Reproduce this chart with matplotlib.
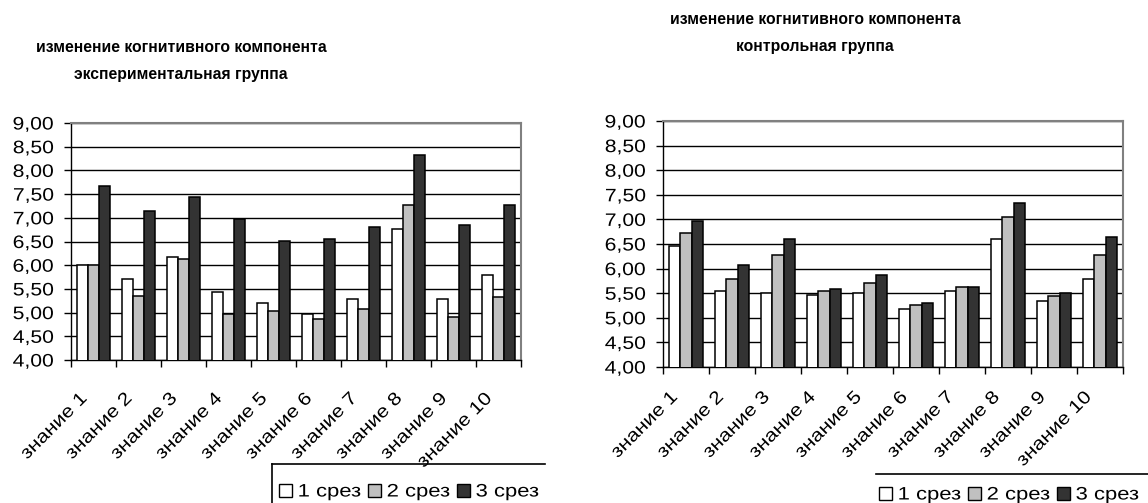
import matplotlib
matplotlib.use("Agg")
import matplotlib.pyplot as plt
from matplotlib.patches import Patch
from matplotlib.lines import Line2D
from matplotlib.transforms import Affine2D, ScaledTranslation
from matplotlib.patheffects import AbstractPathEffect
import numpy as np

plt.rcParams['font.family'] = ['Liberation Sans', 'DejaVu Sans']

# ---- data -------------------------------------------------------------
categories = ["знание 1", "знание 2", "знание 3", "знание 4", "знание 5",
              "знание 6", "знание 7", "знание 8", "знание 9", "знание 10"]
series_labels = ["1 срез", "2 срез", "3 срез"]

exp_cut1 = [6.00, 5.70, 6.18, 5.44, 5.20, 4.98, 5.28, 6.77, 5.28, 5.80]
exp_cut2 = [6.00, 5.35, 6.13, 4.96, 5.04, 4.86, 5.07, 7.26, 4.90, 5.32]
exp_cut3 = [7.68, 7.14, 7.44, 6.97, 6.51, 6.55, 6.80, 8.33, 6.85, 7.26]

ctl_cut1 = [6.45, 5.54, 5.50, 5.46, 5.50, 5.18, 5.54, 6.60, 5.34, 5.79]
ctl_cut2 = [6.72, 5.78, 6.28, 5.54, 5.71, 5.26, 5.63, 7.05, 5.45, 6.28]
ctl_cut3 = [6.97, 6.07, 6.60, 5.59, 5.87, 5.30, 5.63, 7.33, 5.50, 6.64]

y_ticks = [4.00, 4.50, 5.00, 5.50, 6.00, 6.50, 7.00, 7.50, 8.00, 8.50, 9.00]

title_common = "изменение когнитивного компонента"
title_exp = "экспериментальная группа"
title_ctl = "контрольная группа"

# ---- styling ----------------------------------------------------------
W, H = 1148, 503
bar_colors = ["#FFFFFF", "#C0C0C0", "#333333"]
FS = 13
SX = 1.17
TITLE_FS = 11.3


class HStretch(AbstractPathEffect):
    """Draw text glyphs widened horizontally around a fixed end of the string."""

    def __init__(self, sx, anchor="left"):
        super().__init__()
        self.sx = sx
        self.anchor = anchor

    def draw_path(self, renderer, gc, tpath, affine, rgbFace=None):
        ext = tpath.get_extents()
        if self.anchor == "right":
            x0 = ext.x1
        elif self.anchor == "center":
            x0 = 0.5 * (ext.x0 + ext.x1)
        else:
            x0 = ext.x0
        pre = Affine2D().translate(-x0, 0).scale(self.sx, 1.0).translate(x0, 0)
        renderer.draw_path(gc, tpath, pre + affine, rgbFace)


def fx(px):
    return px / W


def fy(py):
    return 1 - py / H


fig = plt.figure(figsize=(W / 100, H / 100), dpi=100)
fig.patch.set_facecolor("white")


def draw_panel(rect, series, label_pad, label_dx):
    left, top, right, bottom = rect
    ax = fig.add_axes([fx(left), fy(bottom), fx(right - left), (bottom - top) / H])
    x = np.arange(len(categories))
    w = 0.24
    for k, vals in enumerate(series):
        ax.bar(x + (k - 1) * w, vals, width=w, color=bar_colors[k],
               edgecolor="black", linewidth=1.1, zorder=3)
    ax.set_xlim(-0.5, len(categories) - 0.5)
    ax.set_ylim(y_ticks[0], y_ticks[-1])
    ax.set_yticks(y_ticks)
    ax.set_yticklabels([f"{v:.2f}".replace(".", ",") for v in y_ticks], fontsize=FS)
    ax.yaxis.grid(True, color="black", linewidth=1.0, zorder=0)
    ax.set_axisbelow(True)

    # tick marks between categories, labels at category centres
    ax.set_xticks(np.arange(-0.5, len(categories), 1.0))
    ax.set_xticklabels([])
    ax.set_xticks(x, minor=True)
    ax.set_xticklabels(categories, minor=True, rotation=45, ha="right",
                       va="center", rotation_mode="anchor", fontsize=FS)
    ax.tick_params(axis="x", which="major", direction="out", length=5, width=1)
    ax.tick_params(axis="x", which="minor", length=0, pad=label_pad)
    ax.tick_params(axis="y", direction="out", length=5, width=1, pad=7.5)
    shift = ScaledTranslation(label_dx / 100, 0, fig.dpi_scale_trans)
    for lab in ax.get_xticklabels(minor=True):
        lab.set_transform(lab.get_transform() + shift)
        lab.set_path_effects([HStretch(SX, "right")])
    for lab in ax.get_yticklabels():
        lab.set_path_effects([HStretch(SX, "right")])

    for s in ("left", "bottom"):
        ax.spines[s].set_color("black")
        ax.spines[s].set_linewidth(1.0)
    for s in ("top", "right"):
        ax.spines[s].set_color("#808080")
        ax.spines[s].set_linewidth(1.5)
    return ax


ax1 = draw_panel((71, 123, 521, 360), [exp_cut1, exp_cut2, exp_cut3], 26, -9)
ax2 = draw_panel((663, 121, 1123, 367), [ctl_cut1, ctl_cut2, ctl_cut3], 20, -11)

# titles
for cx, lines in ((181, ((48, title_common), (74, title_exp))),
                  (815, ((20, title_common), (46, title_ctl)))):
    for py, txt in lines:
        fig.text(fx(cx), fy(py), txt, ha="center", va="center",
                 fontsize=TITLE_FS, fontweight="bold")

# legends
handles = [Patch(facecolor=c, edgecolor="black", linewidth=1.0) for c in bar_colors]
for ax, (lx, ly) in ((ax1, (279, 492)), (ax2, (879, 495))):
    leg = ax.legend(handles, series_labels, ncol=3, frameon=False, fontsize=FS,
                    loc="center left", bbox_to_anchor=(fx(lx), fy(ly)),
                    bbox_transform=fig.transFigure, handlelength=0.72,
                    handleheight=0.72, handletextpad=0.33, columnspacing=1.0,
                    borderpad=0, borderaxespad=0)
    for t in leg.get_texts():
        t.set_path_effects([HStretch(1.22, "left")])

# partial legend frames
fig.add_artist(Line2D([fx(272), fx(545)], [fy(464), fy(464)], color="black",
                      linewidth=1.2, transform=fig.transFigure))
fig.add_artist(Line2D([fx(272), fx(272)], [fy(464), fy(503)], color="black",
                      linewidth=1.2, transform=fig.transFigure))
fig.add_artist(Line2D([fx(876), fx(1148)], [fy(474), fy(474)], color="black",
                      linewidth=1.2, transform=fig.transFigure))

fig.savefig("out.png", dpi=100, facecolor="white")
